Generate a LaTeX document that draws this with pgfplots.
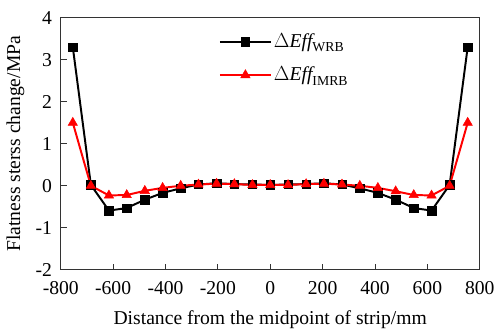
\documentclass[border=0pt]{standalone}
\usepackage{pgfplots}
\pgfplotsset{compat=1.18}
\usepackage{fontspec}
\setmainfont{Liberation Serif}
\begin{document}
\fontsize{20}{24}\selectfont
\begin{tikzpicture}
\begin{axis}[
  scale only axis, width=427pt, height=257pt,
  xmin=-800, xmax=800, ymin=-2, ymax=4,
  xtick={-800,-600,...,800}, ytick={-2,-1,...,4},
  tick pos=left, tick align=inside, major tick length=6pt,
  /pgf/number format/assume math mode=true,
  ticklabel style={font=\fontsize{20}{24}\selectfont},
  xticklabel style={yshift=-5pt},
  yticklabel style={xshift=-2pt},
  label style={font=\fontsize{20}{24}\selectfont},
  xlabel={Distance from the midpoint of strip/mm},
  ylabel={Flatness sterss change/MPa},
  xlabel style={yshift=-3pt},
  ylabel style={yshift=-2pt},
  axis line style={line width=0.8pt, black!80},
  every tick/.style={black!80, line width=0.8pt},
  legend style={draw=none, fill=none, at={(0.37,0.955)}, anchor=north west,
    font=\fontsize{20}{24}\selectfont, row sep=13pt},
  legend cell align=left,
  legend image code/.code={
    \draw[mark repeat=2,mark phase=2,#1,line width=2pt] plot coordinates {(0pt,0pt) (26pt,0pt) (52pt,0pt)};},
]
\addplot[black, line width=2pt, mark=square*, mark size=4.3pt, mark options={line width=0.5pt}] coordinates {
(-754,3.3) (-685,0.02) (-616,-0.59) (-548,-0.53) (-479,-0.33) (-411,-0.17) (-342,-0.06)
(-274,0.03) (-205,0.06) (-137,0.04) (-68,0.03) (0,0.02) (68,0.03) (137,0.04) (205,0.06)
(274,0.03) (342,-0.06) (411,-0.17) (479,-0.33) (548,-0.53) (616,-0.59) (685,0.02) (754,3.3)};
\addlegendentry{$\Delta\mathit{Eff}_{\mathrm{WRB}}$}
\addplot[red, line width=2pt, mark=triangle*, mark size=5.5pt, mark options={line width=0.5pt}] coordinates {
(-754,1.5) (-685,0.0) (-616,-0.23) (-548,-0.22) (-479,-0.12) (-411,-0.05) (-342,0.0)
(-274,0.03) (-205,0.05) (-137,0.04) (-68,0.02) (0,0.02) (68,0.02) (137,0.04) (205,0.05)
(274,0.03) (342,0.0) (411,-0.05) (479,-0.13) (548,-0.22) (616,-0.23) (685,0.0) (754,1.5)};
\addlegendentry{$\Delta\mathit{Eff}_{\mathrm{IMRB}}$}
\end{axis}
\path (current axis.north west) ++(0,18pt);
\end{tikzpicture}
\end{document}
